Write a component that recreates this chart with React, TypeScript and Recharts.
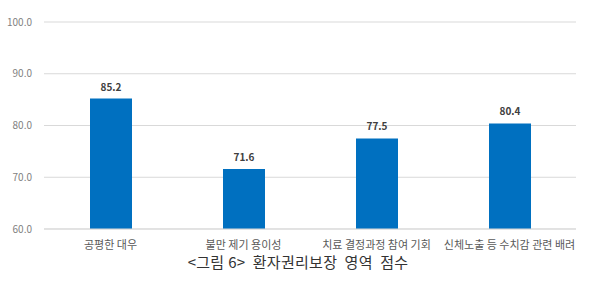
import { BarChart, Bar, XAxis, YAxis, CartesianGrid, LabelList } from "recharts";

const categories = ["공평한 대우", "불만 제기 용이성", "치료 결정과정 참여 기회", "신체노출 등 수치감 관련 배려"];
const scores = [85.2, 71.6, 77.5, 80.4];
const yTicks = [60, 70, 80, 90, 100];
const caption = "<그림 6>  환자권리보장  영역  점수";

const data = categories.map((name, i) => ({ name, score: scores[i] }));

const font = "'Noto Sans CJK KR', 'Noto Sans', sans-serif";

export default function App() {
  return (
    <div style={{ position: "absolute", left: 0, top: 0, width: 600, height: 288, background: "#fff", fontFamily: font }}>
      <BarChart
        width={600}
        height={288}
        data={data}
        margin={{ top: 22, right: 24, bottom: 39, left: 0 }}
        barCategoryGap="34%"
      >
        <CartesianGrid vertical={false} stroke="#d9d9d9" strokeWidth={1} />
        <XAxis
          dataKey="name"
          axisLine={{ stroke: "#d9d9d9" }}
          tickLine={false}
          tick={{ fontSize: 11, fill: "#595959", fontFamily: font }}
          tickMargin={6}
          interval={0}
          height={20}
        />
        <YAxis
          domain={[60, 100]}
          ticks={yTicks}
          axisLine={false}
          tickLine={false}
          width={44}
          tickMargin={6}
          tickFormatter={(v: number) => v.toFixed(1)}
          tick={{ fontSize: 10, fill: "#7f7f7f", fontFamily: font }}
        />
        <Bar dataKey="score" fill="#0070c0" barSize={42} isAnimationActive={false}>
          <LabelList
            dataKey="score"
            position="top"
            offset={8}
            formatter={(v: number) => v.toFixed(1)}
            style={{ fontSize: 10, fill: "#404040", fontWeight: 700, fontFamily: font }}
          />
        </Bar>
      </BarChart>
      <div
        style={{
          position: "absolute",
          left: 0,
          width: 596,
          top: 251,
          textAlign: "center",
          fontSize: 15,
          letterSpacing: 0.3,
          color: "#333",
          whiteSpace: "pre",
        }}
      >
        {caption}
      </div>
    </div>
  );
}
